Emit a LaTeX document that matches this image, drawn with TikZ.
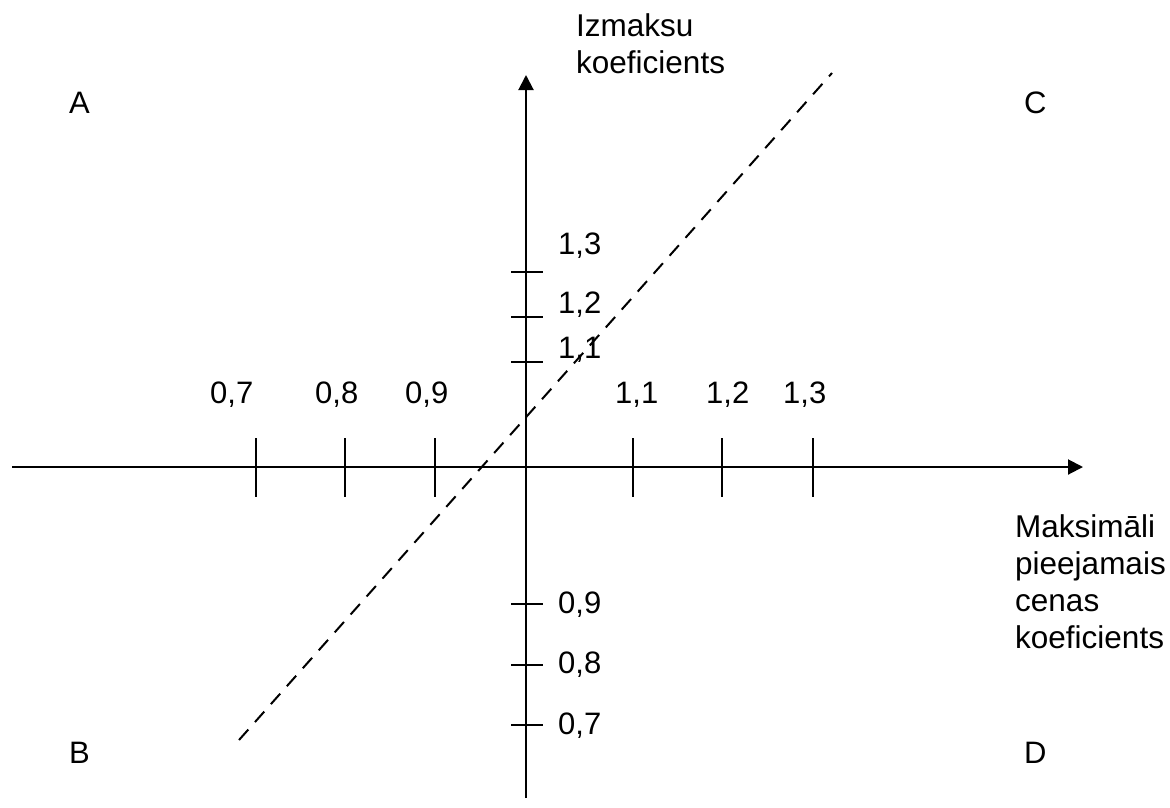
\documentclass[tikz,border=0pt]{standalone}
\usepackage{fontspec}
\setmainfont{Liberation Sans}
\usetikzlibrary{arrows.meta}
\begin{document}
\begin{tikzpicture}[x=1pt,y=-1pt,
  axis/.style={line width=2pt,-{Triangle[length=15pt,width=15pt]}},
  tick/.style={line width=2pt},
  lbl/.style={inner sep=0pt,anchor=base west,font=\fontsize{31}{37}\selectfont},
  ttl/.style={inner sep=0pt,anchor=base west,align=left,font=\fontsize{31.5}{37}\selectfont},
  diag/.style={line width=2pt,dash pattern=on 14pt off 10pt}]
\useasboundingbox (0,0) rectangle (1170,807);
% axes
\coordinate (xl) at (12,467);
\coordinate (xr) at (1083,467);
\coordinate (yb) at (526,798);
\coordinate (yt) at (526,75);
\draw[axis] (xl) -- (xr);
\draw[axis] (yb) -- (yt);
% horizontal ticks
\foreach \x/\n in {256/a,345/b,435/c,633/d,722/e,813/f}{
  \coordinate (ht\n1) at (\x,438);
  \coordinate (ht\n2) at (\x,497);
  \draw[tick] (ht\n1) -- (ht\n2);
}
% vertical ticks
\foreach \y/\n in {272/a,317/b,362/c,604/d,665/e,725/f}{
  \coordinate (vt\n1) at (511,\y);
  \coordinate (vt\n2) at (543,\y);
  \draw[tick] (vt\n1) -- (vt\n2);
}
% dashed line
\coordinate (d1) at (239,740);
\coordinate (d2) at (832,73);
\draw[diag] (d1) -- (d2);
% horizontal labels
\node[lbl] (h07) at (210,403) {0,7};
\node[lbl] (h08) at (315,403) {0,8};
\node[lbl] (h09) at (405,403) {0,9};
\node[lbl] (h11) at (615,403) {1,1};
\node[lbl] (h12) at (706,403) {1,2};
\node[lbl] (h13) at (783,403) {1,3};
% vertical labels
\node[lbl] (v13) at (558,254) {1,3};
\node[lbl] (v12) at (558,313) {1,2};
\node[lbl] (v11) at (558,358) {1,1};
\node[lbl] (v09) at (558,613) {0,9};
\node[lbl] (v08) at (558,673) {0,8};
\node[lbl] (v07) at (558,734) {0,7};
% quadrant letters
\node[lbl] (A) at (69,113) {A};
\node[lbl] (C) at (1024,113) {C};
\node[lbl] (B) at (69,763) {B};
\node[lbl] (D) at (1024,763) {D};
% axis titles (base anchor = baseline of last line)
\node[ttl] (ty) at (576,73) {Izmaksu\\koeficients};
\node[ttl] (tx) at (1015,648) {Maksimāli\\pieejamais\\cenas\\koeficients};
\end{tikzpicture}
\end{document}
